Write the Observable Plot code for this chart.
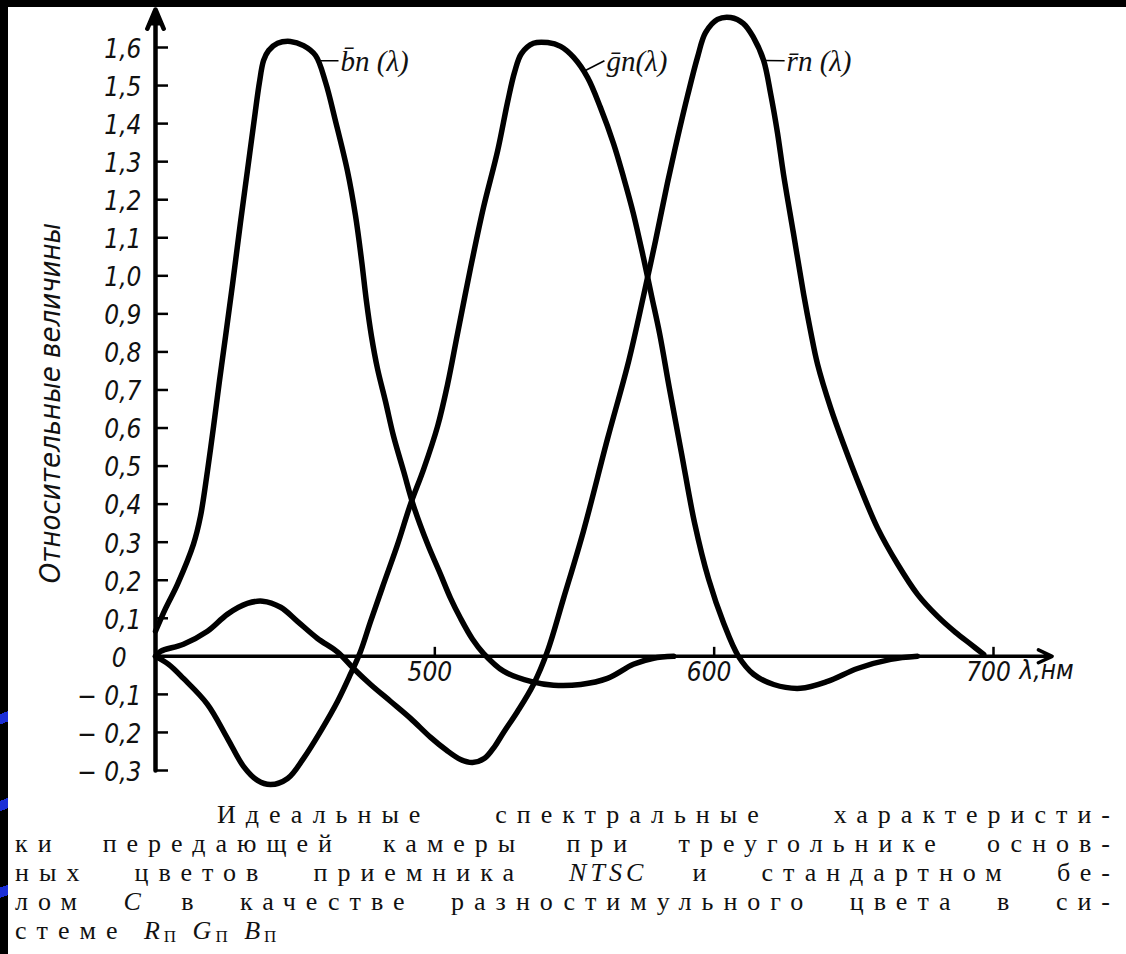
<!DOCTYPE html>
<html>
<head>
<meta charset="utf-8">
<script src="https://cdn.jsdelivr.net/npm/d3@7"></script>
<script src="https://cdn.jsdelivr.net/npm/@observablehq/plot@0.6"></script>
<style>
  html, body { margin: 0; padding: 0; background: #000; width: 1126px; height: 954px; overflow: hidden; }
  #page { position: absolute; left: 8px; top: 7px; width: 1118px; height: 947px; background: #fff; }
  #strip { position: absolute; left: 0; top: 610px; width: 8px; height: 344px;
    background:
      linear-gradient(160deg, transparent 0 30%, #1c2fd6 30% 33%, transparent 33% 55%, #1c2fd6 55% 58%, transparent 58% 80%, #1c2fd6 80% 83%, transparent 83%);
  }
  #chart { position: absolute; left: 0; top: 0; }
  #caption { position: absolute; left: 15px; top: 800px; width: 1105px;
    font-family: "Liberation Serif", "DejaVu Serif", serif; font-size: 26px; line-height: 29px;
    color: #111; letter-spacing: 10px; }
  #caption div { text-align: justify; text-align-last: justify; white-space: nowrap; }
  #caption div.first { margin-left: 202px; }
  #caption div.last { text-align: left; text-align-last: left; }
  #caption sub { font-size: 17px; font-style: normal; vertical-align: -3px; letter-spacing: 0; line-height: 0; }
  #caption i { letter-spacing: 4px; }
</style>
</head>
<body>
<div id="page"></div>
<div id="strip"></div>
<div id="chart"></div>
<div id="caption">
  <div class="first">Идеальные спектральные характеристи-</div>
  <div>ки передающей камеры при треугольнике основ-</div>
  <div>ных цветов приемника <i>NTSC</i> и стандартном бе-</div>
  <div>лом <i>C</i> в качестве разностимульного цвета в си-</div>
  <div class="last">стеме <i>R</i><sub>П</sub> <i>G</i><sub>П</sub> <i>B</i><sub>П</sub></div>
</div>
<script>
// ---------- data ----------
const bWave = [400.0, 403.6, 407.9, 413.6, 416.1, 418.6, 420.8, 422.9, 425.1, 427.6,
  430.4, 432.9, 435.4, 437.2, 438.7, 440.5, 443.7, 448.3, 453.0, 457.3,
  460.9, 464.4, 468.7, 471.6, 473.8, 475.5, 477.3, 479.5, 482.3, 485.2,
  488.8, 492.4, 497.4, 502.0, 505.6, 509.2, 513.5, 517.4, 524.6, 534.3,
  542.5, 552.2, 561.8, 571.1, 578.3, 585.5];
const bValue = [0.066, 0.126, 0.19, 0.295, 0.368, 0.487, 0.605, 0.724, 0.842, 0.979,
  1.139, 1.276, 1.413, 1.508, 1.566, 1.592, 1.611, 1.616, 1.605, 1.579,
  1.508, 1.408, 1.276, 1.158, 1.039, 0.934, 0.842, 0.755, 0.671, 0.579,
  0.487, 0.395, 0.295, 0.216, 0.153, 0.10, 0.045, 0.008, -0.039, -0.066,
  -0.076, -0.074, -0.058, -0.021, -0.005, 0];

const gWave = [400, 404.7, 410.0, 418.6, 425.8, 431.5, 436.5, 441.2, 447.3, 453.0,
  459.1, 465.2, 469.8, 473.4, 477.0, 481.6, 486.7, 491.3, 496.0, 501.0,
  504.6, 508.1, 512.8, 517.4, 522.5, 526.0, 528.5, 531.0, 535.3, 540.4,
  545.0, 549.7, 554.7, 559.3, 564.0, 567.6, 571.1, 574.7, 577.6, 580.5,
  584.0, 588.3, 593.0, 598.0, 603.4, 608.7, 614.1, 621.3, 630.9, 640.6,
  651.3, 663.2, 672.8];
const gValue = [0, -0.021, -0.058, -0.126, -0.216, -0.289, -0.326, -0.337, -0.321, -0.268,
  -0.197, -0.118, -0.047, 0.013, 0.092, 0.189, 0.295, 0.40, 0.492, 0.605,
  0.716, 0.847, 1.021, 1.179, 1.329, 1.455, 1.534, 1.584, 1.611, 1.613,
  1.603, 1.574, 1.521, 1.442, 1.347, 1.258, 1.163, 1.047, 0.947, 0.847,
  0.703, 0.534, 0.35, 0.203, 0.087, 0, -0.047, -0.074, -0.084, -0.066,
  -0.032, -0.008, 0];

const rWave = [400, 401.8, 410.0, 418.6, 425.8, 432.9, 438.3, 444.8, 450.8, 458.0,
  465.2, 470.9, 477.0, 484.1, 491.3, 498.5, 504.2, 509.2, 513.5, 517.8,
  521.4, 524.6, 529.6, 535.3, 540.3, 546.1, 553.2, 561.8, 569.4, 574.7,
  579.0, 583.3, 586.9, 590.5, 594.1, 596.9, 601.2, 605.9, 610.5, 614.1,
  617.7, 620.2, 622.7, 624.8, 628.4, 632.0, 634.5, 637.0, 641.7, 646.3,
  652.4, 658.5, 665.7, 672.8, 680.0, 686.4, 691.8, 696.5];
const rValue = [0, 0.013, 0.032, 0.066, 0.111, 0.139, 0.145, 0.129, 0.092, 0.047,
  0.011, -0.032, -0.074, -0.118, -0.163, -0.213, -0.247, -0.271, -0.279, -0.268,
  -0.237, -0.2, -0.145, -0.074, 0.013, 0.153, 0.329, 0.571, 0.776, 0.947,
  1.092, 1.245, 1.363, 1.474, 1.576, 1.639, 1.674, 1.679, 1.663, 1.626,
  1.566, 1.479, 1.374, 1.268, 1.111, 0.953, 0.855, 0.768, 0.653, 0.558,
  0.442, 0.337, 0.242, 0.163, 0.105, 0.063, 0.032, 0.005];

const yTicks = [-0.3, -0.2, -0.1, 0, 0.1, 0.2, 0.3, 0.4, 0.5, 0.6, 0.7, 0.8, 0.9, 1.0, 1.1, 1.2, 1.3, 1.4, 1.5, 1.6];
const yTickLabels = ["− 0,3", "− 0,2", "− 0,1", "0\u2007", "0,1", "0,2", "0,3", "0,4", "0,5", "0,6",
  "0,7", "0,8", "0,9", "1,0", "1,1", "1,2", "1,3", "1,4", "1,5", "1,6"];
const xTicks = [500, 600, 700];
const xTickLabels = ["500", "600", "700"];
const xUnit = "λ,нм";
const yTitle = "Относительные величины";

const seriesNames = ["b", "g", "r"];
const labelBase = ["b\u0304", "g\u0304", "r\u0304"];
const labelSub = ["п", "п", "п"];
const labelTail = [" (λ)", "(λ)", " (λ)"];
const labelAt = [458.0, 553.2, 617.7];   // wavelength where each label's leader touches its curve

const xDomain = [400, 700];
const yDomain = [-0.3, 1.6];
const xAxisEnd = 721;
const yAxisTop = 1.7;
const labelLevel = 1.565;

// ---------- build ----------
const rows = [
  ...bWave.map((w, i) => ({series: "b", wavelength: w, value: bValue[i]})),
  ...gWave.map((w, i) => ({series: "g", wavelength: w, value: gValue[i]})),
  ...rWave.map((w, i) => ({series: "r", wavelength: w, value: rValue[i]}))
];
const waves = {b: bWave, g: gWave, r: rWave};
const vals = {b: bValue, g: gValue, r: rValue};
function interp(s, x) {
  const W = waves[s], V = vals[s];
  for (let i = 1; i < W.length; i++) {
    if (x <= W[i]) { const t = (x - W[i-1]) / (W[i] - W[i-1]); return V[i-1] + t * (V[i] - V[i-1]); }
  }
  return V[V.length - 1];
}
const labelRows = seriesNames.map((s, i) => ({series: s, x: labelAt[i], y: interp(s, labelAt[i]), text: labelBase[i] + labelSub[i] + labelTail[i]}));

const W = 1126, H = 800, mL = 155, mR = 133, mT = 47, mB = 30;
const pxPerNm = (W - mL - mR) / (xDomain[1] - xDomain[0]);
const pxPerUnit = (H - mT - mB) / (yDomain[1] - yDomain[0]);
const tickFont = "'DejaVu Sans Condensed', 'DejaVu Sans', sans-serif";

const chart = Plot.plot({
  width: W, height: H,
  marginLeft: mL, marginRight: mR, marginTop: mT, marginBottom: mB,
  x: {domain: xDomain, axis: null},
  y: {domain: yDomain, axis: null},
  style: {background: "transparent", overflow: "visible"},
  marks: [
    // x axis with arrow
    Plot.arrow([0], {x1: xDomain[0], x2: xAxisEnd, y1: 0, y2: 0, stroke: "#000", strokeWidth: 3.5, headLength: 6.5, headAngle: 50}),
    Plot.ruleX(xTicks, {x: d => d, y1: 0, y2: 9 / pxPerUnit, stroke: "#000", strokeWidth: 2.5}),
    Plot.text(xTicks, {x: d => d, y: 0, text: (d, i) => xTickLabels[i], lineAnchor: "top", dy: 6, dx: -5,
      fontSize: 26, fontStyle: "italic", fontFamily: tickFont, fill: "#111"}),
    Plot.text([xUnit], {x: 700, y: 0, text: d => d, textAnchor: "start", lineAnchor: "top", dx: 26, dy: 4,
      fontSize: 26, fontStyle: "italic", fontFamily: tickFont, fill: "#111"}),
    // y axis with arrow
    Plot.arrow([0], {x1: xDomain[0], x2: xDomain[0], y1: yDomain[0], y2: yAxisTop, stroke: "#000", strokeWidth: 4.5, headLength: 7, headAngle: 46}),
    Plot.dot([0], {x: xDomain[0], y: yAxisTop - 11 / pxPerUnit, symbol: "triangle", r: 6.5, fill: "#000", stroke: "none"}),
    Plot.ruleY(yTicks, {y: d => d, x1: xDomain[0], x2: xDomain[0] + 13 / pxPerNm, stroke: "#000", strokeWidth: 2.5}),
    Plot.text(yTicks, {x: xDomain[0], y: d => d, text: (d, i) => yTickLabels[i], textAnchor: "end", dx: -14, dy: 2,
      fontSize: 26, fontStyle: "italic", fontFamily: tickFont, fill: "#111"}),
    Plot.text([yTitle], {frameAnchor: "left", textAnchor: "middle", dx: -105, dy: -6, rotate: -90, text: d => d,
      fontSize: 29, fontStyle: "italic", fontFamily: tickFont, fill: "#111"}),
    // curves
    Plot.line(rows, {x: "wavelength", y: "value", z: "series", stroke: "#000", strokeWidth: 5.5,
      curve: "catmull-rom", strokeLinejoin: "round", strokeLinecap: "round"}),
    // curve labels
    Plot.link(labelRows, {x1: "x", y1: "y", x2: d => d.x + 21 / pxPerNm, y2: labelLevel, stroke: "#000", strokeWidth: 1.6}),
    Plot.text(labelRows, {x: "x", y: labelLevel, text: "text", textAnchor: "start", dx: 23, dy: 1,
      fontSize: 29, fontStyle: "italic", fontFamily: "'Liberation Serif', serif", fill: "#111", ariaLabel: "curve labels"})
  ]
});
document.getElementById("chart").appendChild(chart);

// curve labels: subscript п
d3.select(chart).selectAll('g[aria-label="curve labels"] text').each(function(d, i) {
  const t = d3.select(this);
  t.text(null);
  t.append("tspan").text(labelBase[i]);
  t.append("tspan").attr("font-size", 21).attr("dy", 6).text(labelSub[i]);
  t.append("tspan").attr("dy", -6).text(labelTail[i]);
});
</script>
</body>
</html>
